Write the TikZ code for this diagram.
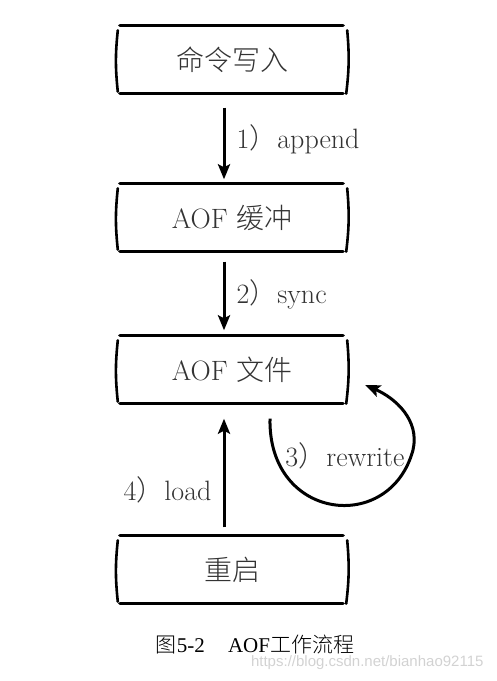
\documentclass[tikz,border=0pt]{standalone}
\usepackage{fontspec}
\newfontfamily\cjk{Noto Sans CJK SC Light}
\newfontfamily\capfont{Liberation Serif}
\newfontfamily\markfont{Liberation Sans}
\usetikzlibrary{arrows.meta,positioning}

\newcommand{\zh}[1]{{\cjk #1}}

\tikzset{
  stepbox/.style={minimum width=232pt,minimum height=67pt,inner sep=0pt,text=black!80,font=\fontsize{28}{32}\selectfont},
  boxline/.style={line width=3.2pt,line cap=round},
  bracket/.style={line width=2.6pt,line cap=round},
  flow/.style={line width=3pt,-{Stealth[length=15pt,width=12pt,inset=3pt]}},
  lbl/.style={font=\fontsize{28}{32}\selectfont,text=black!80,inner sep=11pt}
}

\begin{document}
\begin{tikzpicture}[x=1pt,y=1pt,node distance=158pt,on grid,auto]
    \useasboundingbox (0,0) rectangle (497,-681);
    \node[stepbox] (cmd)     at (232,-60)          {\zh{命令写入}};
    \node[stepbox] (buf)     [below=of cmd]        {AOF \zh{缓冲}};
    \node[stepbox] (file)    [below=152pt of buf]  {AOF \zh{文件}};
    \node[stepbox] (restart) [below=200pt of file] {\zh{重启}};
    % open boxes: thick top and bottom, bracket sides
    \foreach \n in {cmd,buf,file,restart} {
      \draw[boxline] ([xshift=4pt,yshift=1pt]\n.north west) -- ([xshift=-5pt,yshift=1pt]\n.north east);
      \draw[boxline] ([xshift=4pt]\n.south west) -- ([xshift=-5pt]\n.south east);
      \draw[bracket] ([xshift=2pt,yshift=-4pt]\n.north west) to[bend right=6] ([xshift=2pt,yshift=2pt]\n.south west);
      \draw[bracket] ([xshift=-1pt,yshift=-4pt]\n.north east) to[bend left=6] ([xshift=-2pt,yshift=0pt]\n.south east);
    }
    \path[flow]
    ([xshift=-8pt]cmd.south)     edge [shorten <=14pt,shorten >=5pt] node[lbl] {1\zh{）}append} ([xshift=-8pt]buf.north)
    ([xshift=-8pt]buf.south)     edge [shorten <=10pt,shorten >=6pt] node[lbl] {2\zh{）}sync} ([xshift=-8pt]file.north)
    ([xshift=-8pt]restart.north) edge [shorten <=9pt,shorten >=15pt] node[lbl,pos=0.35] {4\zh{）}load} ([xshift=-8pt]file.south);
    % rewrite loop back into the file
    \coordinate (rwout) at ([xshift=38pt,yshift=-15pt]file.south);
    \coordinate (rwin)  at ([xshift=17pt,yshift=-15pt]file.east);
    \draw[flow] (rwout) .. controls +(-2,-102) and +(-23,-85) .. (413,-450)
                        .. controls +(7,30) and +(30,-13) .. (rwin);
    \node[lbl] (rwlabel) at ([xshift=113pt,yshift=-52pt]file.south) {3\zh{）}rewrite};
    \node[font=\capfont\fontsize{21}{25}\selectfont] (caption) at (255,-645) {\zh{图}5-2\hspace{1.1em}AOF\zh{工作流程}};
    \node[font=\markfont\fontsize{15}{18}\selectfont,text=gray!35,anchor=east] (mark) at (487,-663) {https://blog.csdn.net/bianhao92115};
  \end{tikzpicture}
\end{document}
